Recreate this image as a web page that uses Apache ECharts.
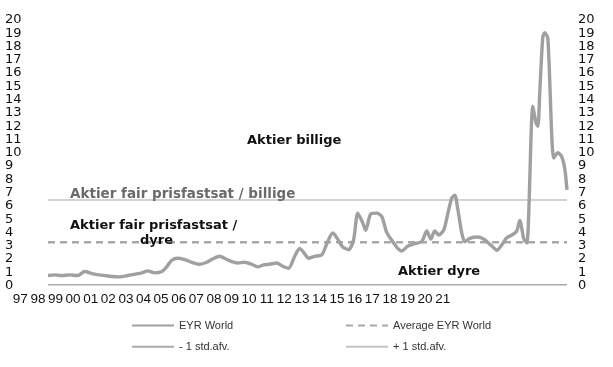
<!DOCTYPE html>
<html>
<head>
<meta charset="utf-8">
<script src="https://cdn.jsdelivr.net/npm/echarts@6/dist/echarts.min.js"></script>
<style>
  html, body { margin: 0; padding: 0; background: #fff; }
  #chart { width: 613px; height: 367px; }
</style>
</head>
<body>
<div id="chart"></div>
<script>
// Earnings-yield ratio for world equities, 1996.5 – 2022 (decimal years)
const years = [
  1996.5, 1996.83, 1997.17, 1997.57, 1997.96, 1998.3, 1998.65, 1999.04, 1999.53, 2000.02,
  2000.42, 2000.76, 2001.1, 2001.4, 2001.74, 2002.09, 2002.33, 2002.58, 2002.87, 2003.22,
  2003.56, 2003.95, 2004.3, 2004.59, 2004.94, 2005.23, 2005.53, 2005.82, 2006.16, 2006.51,
  2006.8, 2007.1, 2007.39, 2007.73, 2008.03, 2008.32, 2008.62, 2008.86, 2009.06, 2009.31,
  2009.6, 2009.95, 2010.24, 2010.49, 2010.73, 2010.98, 2011.28, 2011.52, 2011.72, 2011.97,
  2012.11, 2012.36, 2012.65, 2012.9, 2013.14, 2013.44, 2013.68, 2013.88, 2014.17, 2014.52,
  2014.86, 2015.11, 2015.31, 2015.5, 2015.7, 2015.95, 2016.14, 2016.34, 2016.49, 2016.63,
  2016.83, 2016.98, 2017.22, 2017.62, 2017.96, 2018.21, 2018.4, 2018.55, 2018.86, 2019.04,
  2019.29, 2019.53, 2019.68, 2019.88, 2020.03, 2020.32, 2020.47, 2020.57, 2020.66, 2020.81,
  2020.91, 2021.06, 2021.35, 2021.55, 2021.74, 2021.89, 2022.0
];
const eyrWorld = [
  0.75, 0.8, 0.75, 0.8, 0.75, 1.05, 0.9, 0.8, 0.7, 0.65,
  0.75, 0.85, 0.95, 1.1, 0.95, 1.05, 1.4, 1.9, 2.05, 1.95,
  1.75, 1.6, 1.75, 2.0, 2.2, 2.0, 1.8, 1.7, 1.75, 1.6,
  1.4, 1.55, 1.6, 1.7, 1.45, 1.3, 2.2, 2.8, 2.5, 2.05,
  2.2, 2.3, 3.3, 3.95, 3.5, 2.9, 2.7, 3.5, 5.45, 4.7,
  4.15, 5.4, 5.45, 5.2, 4.0, 3.3, 2.8, 2.6, 2.95, 3.15,
  3.3, 4.1, 3.5, 4.1, 3.8, 4.2, 5.4, 6.6, 6.8, 5.8,
  3.95, 3.3, 3.55, 3.65, 3.45, 3.1, 2.85, 2.65, 3.2, 3.6,
  3.8, 4.1, 4.9, 3.5, 3.2, 13.5, 12.3, 12.0, 14.5, 18.7,
  19.05, 18.6, 9.6, 10.0, 9.7, 8.8, 7.2
];
const averageEyr = 3.25;
const plusOneStd = 6.45;
const minusOneStd = 0.05;
const xStart = 1996.5;
const xEnd = 2022.0;
// Year labels along the bottom
const yearLabels = ['97', '98', '99', '00', '01', '02', '03', '04', '05', '06', '07', '08',
  '09', '10', '11', '12', '13', '14', '15', '16', '17', '18', '19', '20', '21'];
const yRange = [0, 20];

const pairs = years.map((y, i) => [y, eyrWorld[i]]);
const flat = v => [[xStart, v], [xEnd, v]];

const chart = echarts.init(document.getElementById('chart'), null, { renderer: 'canvas' });

const hidden = { splitLine: { show: false }, axisLine: { show: false }, axisTick: { show: false } };
const valueY = Object.assign({ type: 'value', min: yRange[0], max: yRange[1], interval: 1 }, hidden);
const tickFont = { fontFamily: 'DejaVu Sans', fontSize: 13, lineHeight: 12, color: '#111' };
const legendBase = {
  top: 315, orient: 'vertical', itemGap: 10, itemWidth: 42, itemHeight: 14,
  itemStyle: { opacity: 0 },
  textStyle: { fontFamily: 'Liberation Sans', fontSize: 11, color: '#333' }
};

chart.setOption({
  animation: false,
  backgroundColor: '#ffffff',
  grid: [
    { left: 48, right: 46, top: 20, bottom: 81.5 },
    // strip that carries the year labels
    { left: 11.5, width: 440, top: 20, bottom: 81.5 }
  ],
  xAxis: [
    Object.assign({ type: 'value', min: xStart, max: xEnd, gridIndex: 0, axisLabel: { show: false } }, hidden),
    Object.assign({
      type: 'category', gridIndex: 1, data: yearLabels, boundaryGap: true,
      axisLabel: { interval: 0, fontFamily: 'Liberation Sans', fontSize: 13.5, color: '#111', margin: 7 }
    }, hidden)
  ],
  yAxis: [
    Object.assign({}, valueY, {
      gridIndex: 0, position: 'left',
      axisLabel: Object.assign({ align: 'left', margin: 43 }, tickFont)
    }),
    Object.assign({}, valueY, {
      gridIndex: 0, position: 'right',
      axisLabel: Object.assign({ align: 'left', margin: 11 }, tickFont)
    }),
    Object.assign({}, valueY, { gridIndex: 1, axisLabel: { show: false } })
  ],
  legend: [
    Object.assign({ left: 126, data: ['EYR World', '- 1 std.afv.'] }, legendBase),
    Object.assign({ left: 340, data: ['Average EYR World', '+ 1 std.afv.'] }, legendBase)
  ],
  series: [
    {
      name: '- 1 std.afv.', type: 'line', data: flat(minusOneStd), symbol: 'none', clip: false,
      lineStyle: { color: '#ababab', width: 1.5 }, itemStyle: { color: '#ababab' }, z: 4
    },
    {
      name: '+ 1 std.afv.', type: 'line', data: flat(plusOneStd), symbol: 'none',
      lineStyle: { color: '#c4c4c4', width: 1.5 }, itemStyle: { color: '#c4c4c4' }, z: 1
    },
    {
      name: 'Average EYR World', type: 'line', data: flat(averageEyr), symbol: 'none',
      lineStyle: { color: '#a8a8a8', width: 2.5, type: [7, 5] }, itemStyle: { color: '#a8a8a8' }, z: 2
    },
    {
      name: 'EYR World', type: 'line', data: pairs, symbol: 'none', smooth: 0.25,
      lineStyle: { color: '#a0a0a0', width: 3.4 }, itemStyle: { color: '#a0a0a0' }, z: 3
    }
  ],
  graphic: [
    { type: 'text', left: 247, top: 134, z: 10,
      style: { text: 'Aktier billige', font: 'bold 13px "DejaVu Sans"', fill: '#111' } },
    { type: 'text', left: 70, top: 187, z: 10,
      style: { text: 'Aktier fair prisfastsat / billige', font: 'bold 13.5px "DejaVu Sans"', fill: '#6a6a6a' } },
    { type: 'text', left: 70, top: 219, z: 10,
      style: { text: 'Aktier fair prisfastsat /', font: 'bold 13px "DejaVu Sans"', fill: '#111' } },
    { type: 'text', left: 140, top: 234, z: 10,
      style: { text: 'dyre', font: 'bold 13px "DejaVu Sans"', fill: '#111' } },
    { type: 'text', left: 398, top: 265, z: 10,
      style: { text: 'Aktier dyre', font: 'bold 13px "DejaVu Sans"', fill: '#111' } }
  ]
});
</script>
</body>
</html>
